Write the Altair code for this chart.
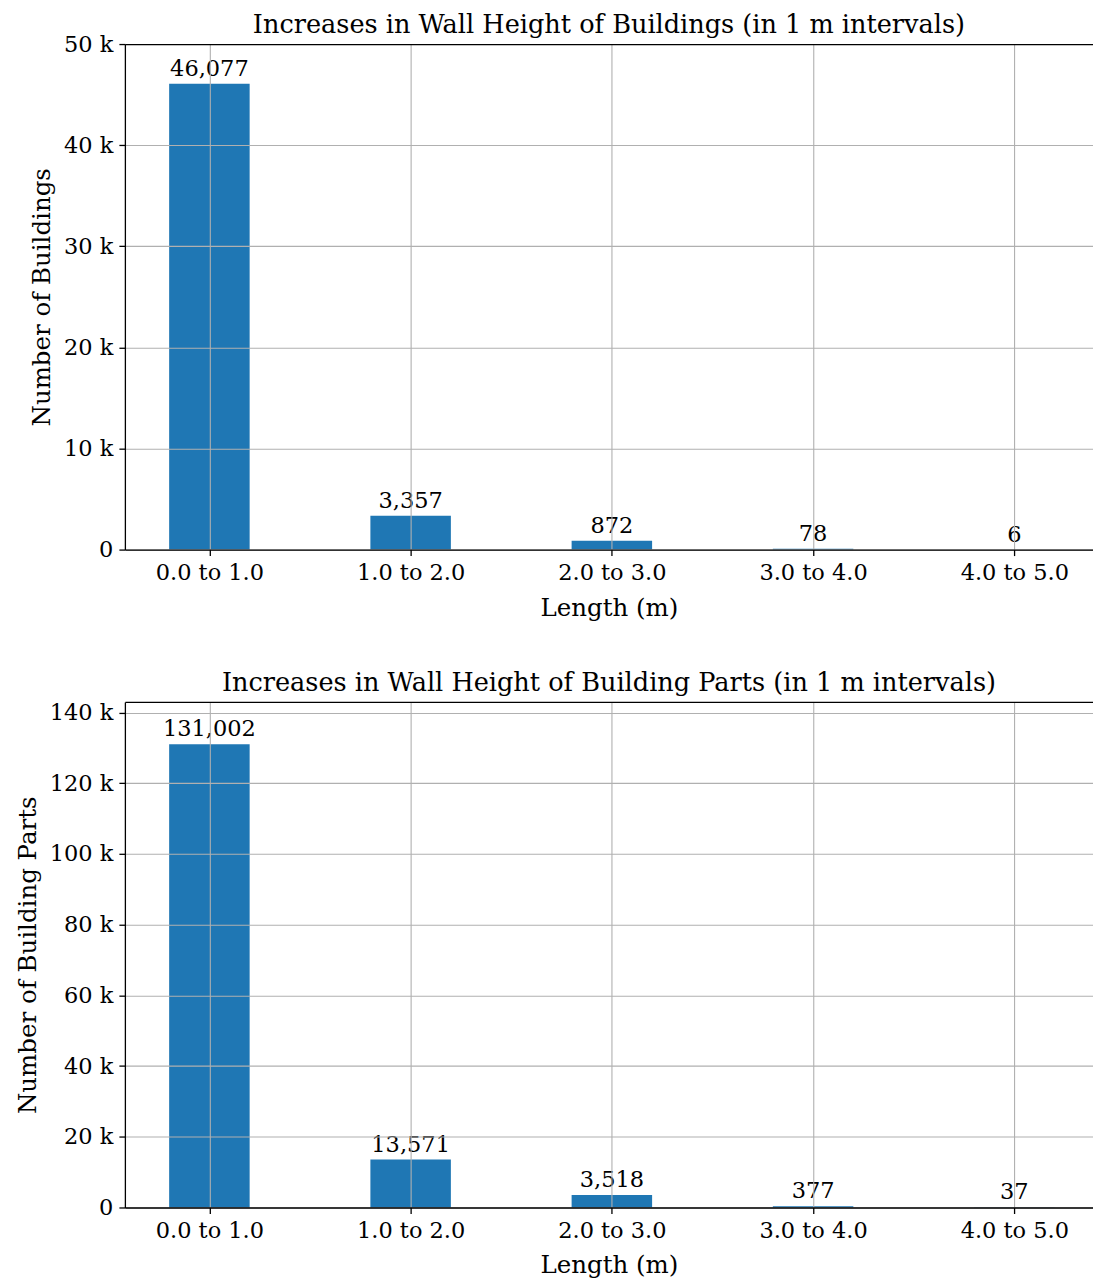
import altair as alt
import pandas as pd

# Interval labels shared by both panels
intervals = ["0.0 to 1.0", "1.0 to 2.0", "2.0 to 3.0", "3.0 to 4.0", "4.0 to 5.0"]
buildings = [46077, 3357, 872, 78, 6]
building_parts = [131002, 13571, 3518, 377, 37]

FONT = "DejaVu Serif"
TITLE_FS = 25.6
AXIS_TITLE_FS = 24.5
LABEL_FS = 22.5
VALUE_FS = 22.5
BLUE = "#1f77b4"
GRID = "#b0b0b0"
PLOT_W = 969
PLOT_H = 506
X_DOMAIN = [-0.42, 4.391]

label_expr = "[" + ",".join("'%s'" % s for s in intervals) + "][round(datum.value)]"
k_expr = "datum.value == 0 ? '0' : format(datum.value / 1000, 'd') + ' k'"


def panel(values, title, ytitle, ymax, ystep, title_offset):
    df = pd.DataFrame({
        "idx": list(range(len(intervals))),
        "interval": intervals,
        "count": values,
    })
    df["left"] = df["idx"] - 0.2
    df["right"] = df["idx"] + 0.2

    xscale = alt.Scale(domain=X_DOMAIN, nice=False, zero=False)
    yscale = alt.Scale(domain=[0, ymax], nice=False)

    bars = alt.Chart(df).mark_bar(color=BLUE).encode(
        x=alt.X(
            "left:Q",
            scale=xscale,
            axis=alt.Axis(
                values=list(range(len(intervals))),
                labelExpr=label_expr,
                title="Length (m)",
                labelPadding=6,
                titlePadding=12,
                grid=True,
                zindex=1,
            ),
        ),
        x2="right:Q",
        y=alt.Y(
            "count:Q",
            scale=yscale,
            axis=alt.Axis(
                values=list(range(0, ymax + 1, ystep)),
                labelExpr=k_expr,
                title=ytitle,
                labelPadding=6,
                titlePadding=9,
                grid=True,
                zindex=1,
            ),
        ),
        y2=alt.datum(0),
    )

    labels = alt.Chart(df).mark_text(
        baseline="bottom", dy=-3, fontSize=VALUE_FS, font=FONT, color="black"
    ).encode(
        x=alt.X(
            "idx:Q",
            scale=xscale,
            axis=alt.Axis(
                orient="top", labels=False, ticks=False, grid=False,
                title=None, domain=True, zindex=1,
            ),
        ),
        y=alt.Y("count:Q", scale=yscale),
        text=alt.Text("count:Q", format=",d"),
    )

    return (
        alt.layer(bars, labels)
        .resolve_axis(x="independent")
        .properties(
            width=PLOT_W,
            height=PLOT_H,
            title=alt.Title(title, fontSize=TITLE_FS, font=FONT, fontWeight="normal",
                            color="black", offset=title_offset),
        )
    )


top = panel(buildings, "Increases in Wall Height of Buildings (in 1 m intervals)",
            "Number of Buildings", 50000, 10000, -6)
bottom = panel(building_parts, "Increases in Wall Height of Building Parts (in 1 m intervals)",
               "Number of Building Parts", 143000, 20000, 5)

chart = (
    alt.vconcat(top, bottom, spacing=51.5)
    .properties(padding={"left": 15, "top": 12.5, "right": 0, "bottom": 5})
    .configure_view(strokeWidth=0)
    .configure_axis(
        labelFont=FONT, titleFont=FONT, labelFontSize=LABEL_FS, titleFontSize=AXIS_TITLE_FS,
        labelColor="black", titleColor="black", titleFontWeight="normal",
        domainColor="black", domainWidth=1.3, tickColor="black", tickWidth=1.3,
        tickSize=6, gridColor=GRID, gridWidth=1.1,
    )
)

chart.save("out.html", embed_options={"renderer": "svg", "actions": False})
